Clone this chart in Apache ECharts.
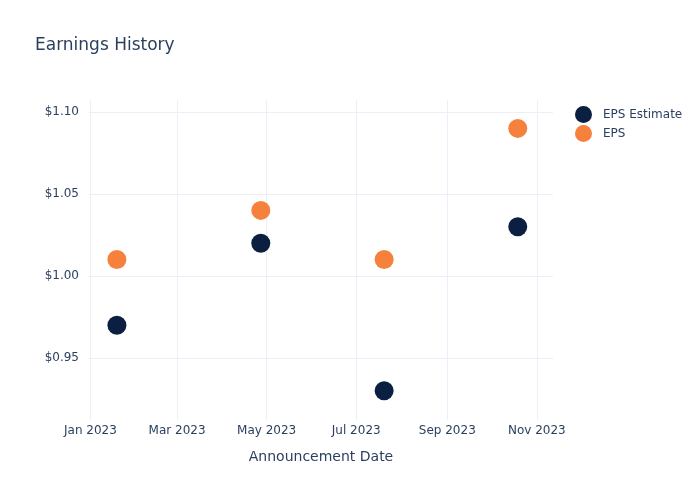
<!DOCTYPE html>
<html>
<head>
<meta charset="utf-8">
<script src="https://cdn.jsdelivr.net/npm/echarts@6/dist/echarts.min.js"></script>
<style>html,body{margin:0;padding:0;background:#fff}#c{width:700px;height:500px}</style>
</head>
<body>
<div id="c"></div>
<script>
const dates = ['2023-01-19', '2023-04-27', '2023-07-20', '2023-10-19'];
const epsEstimate = [0.97, 1.02, 0.93, 1.03];
const eps = [1.01, 1.04, 1.01, 1.09];
const xTicks = ['2023-01-01', '2023-03-01', '2023-05-01', '2023-07-01', '2023-09-01', '2023-11-01'];
const yTicks = [0.95, 1.00, 1.05, 1.10];

const MONTHS = ['Jan','Feb','Mar','Apr','May','Jun','Jul','Aug','Sep','Oct','Nov','Dec'];
const ts = s => Date.parse(s + 'T00:00:00Z');
const textColor = '#2a3f5f';
const font = 'DejaVu Sans, sans-serif';

const chart = echarts.init(document.getElementById('c'), null, {renderer: 'canvas'});
chart.setOption({
  animation: false,
  backgroundColor: '#fff',
  textStyle: {fontFamily: font},
  title: {
    text: 'Earnings History', left: 30, top: 32,
    textStyle: {fontFamily: font, fontSize: 17, fontWeight: 'normal', color: textColor}
  },
  legend: {
    orient: 'vertical', left: 575, top: 106, itemGap: 2, padding: 0,
    icon: 'circle', itemWidth: 17, itemHeight: 17,
    textStyle: {fontFamily: font, fontSize: 12, color: textColor, padding: [0, 0, 0, 6]},
    data: ['EPS Estimate', 'EPS']
  },
  grid: {left: 89, right: 147, top: 100, bottom: 80},
  xAxis: {
    type: 'value',
    min: ts('2022-12-31'), max: ts('2023-11-12'),
    name: 'Announcement Date', nameLocation: 'middle', nameGap: 30,
    nameTextStyle: {fontFamily: font, fontSize: 14, color: textColor},
    axisLine: {show: false},
    axisTick: {show: false, customValues: xTicks.map(ts)},
    splitLine: {show: true, lineStyle: {color: '#ebf0f8', width: 1}},
    axisLabel: {
      customValues: xTicks.map(ts),
      fontFamily: font, fontSize: 12, color: textColor, margin: 5,
      formatter: v => { const d = new Date(v); return MONTHS[d.getUTCMonth()] + ' ' + d.getUTCFullYear(); }
    }
  },
  yAxis: {
    type: 'value', min: 0.9122, max: 1.1073,
    axisLine: {show: false},
    axisTick: {show: false, customValues: yTicks},
    splitLine: {show: true, lineStyle: {color: '#ebf0f8', width: 1}},
    axisLabel: {
      customValues: yTicks,
      fontFamily: font, fontSize: 12, color: textColor, margin: 10,
      padding: [2, 0, 0, 0],
      formatter: v => '$' + v.toFixed(2)
    }
  },
  series: [
    {
      name: 'EPS Estimate', type: 'scatter', symbolSize: 19,
      itemStyle: {color: '#0b1f40', opacity: 1},
      data: dates.map((d, i) => [ts(d), epsEstimate[i]])
    },
    {
      name: 'EPS', type: 'scatter', symbolSize: 19,
      itemStyle: {color: '#f5813d', opacity: 1},
      data: dates.map((d, i) => [ts(d), eps[i]])
    }
  ]
});
</script>
</body>
</html>
